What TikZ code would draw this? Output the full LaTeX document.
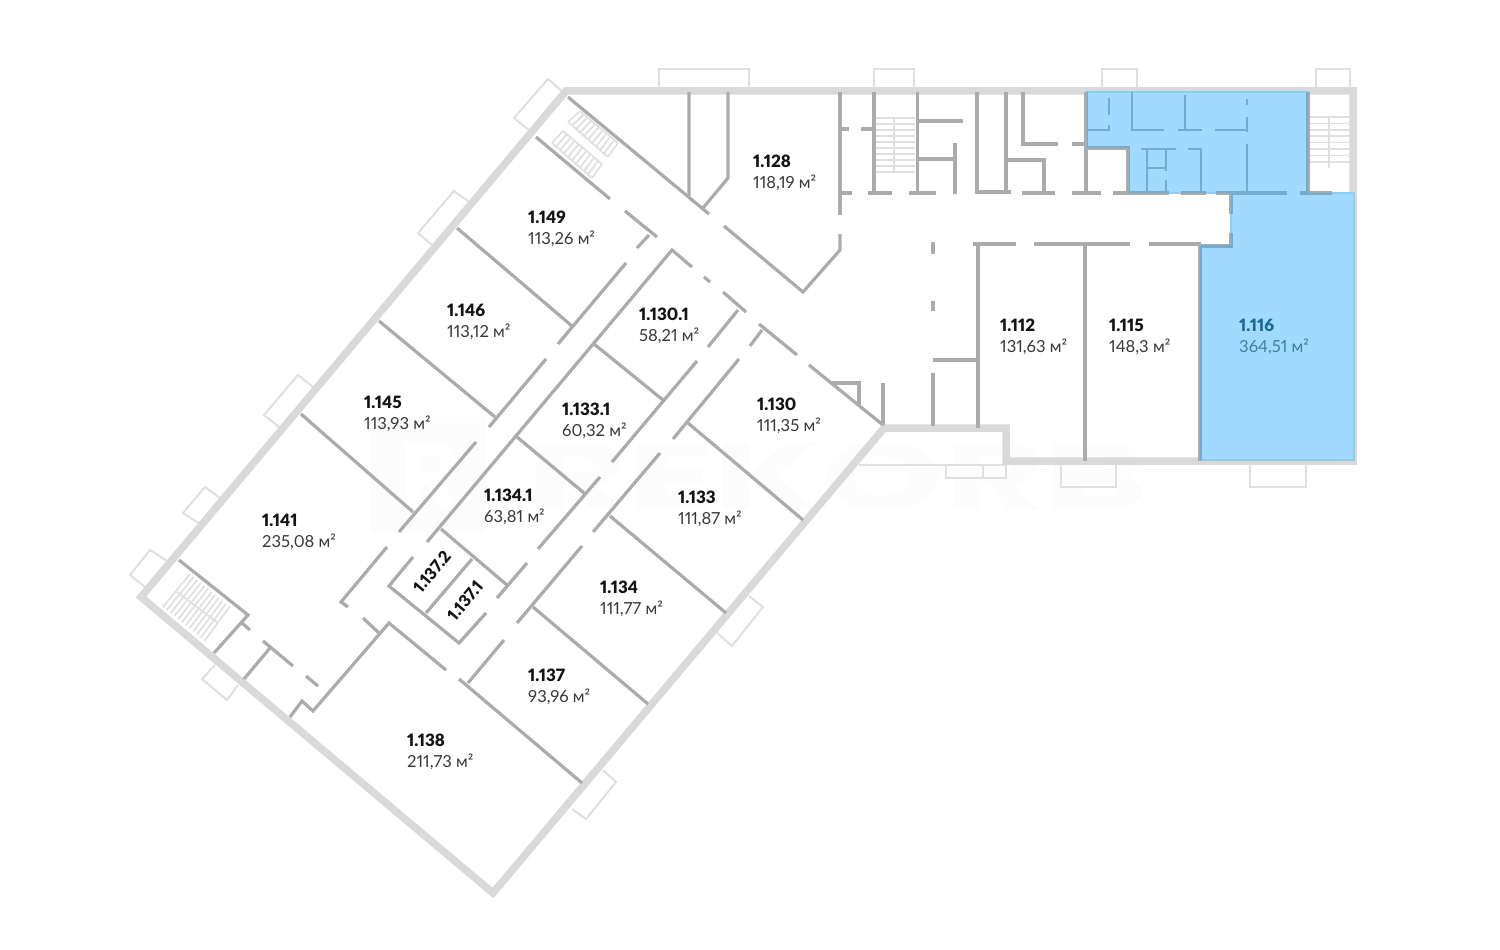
\documentclass[tikz,border=0pt]{standalone}
\usepackage{fontspec}
\setmainfont[Numbers=Proportional]{Lato}
\newfontfamily\heavyf[Numbers=Proportional]{Lato Black}
\newfontfamily\markfont{Poppins}
\usetikzlibrary{calc}
\definecolor{outerc}{HTML}{D9D9D9}
\definecolor{innerc}{HTML}{ABABAB}
\definecolor{innerb}{HTML}{72ACCF}
\definecolor{winc}{HTML}{DFDFDF}
\definecolor{blueroom}{HTML}{A0DAFF}
\definecolor{blueedge}{HTML}{8CCDF2}
\definecolor{marka}{HTML}{FCFCFC}
\definecolor{bluedark}{HTML}{1C6A96}
\definecolor{bluemid}{HTML}{3F7EA3}
\tikzset{
  x=1pt,y=-1pt,
  outerw/.style={draw=outerc,line width=7.5pt,line join=miter},
  wall/.style={draw=innerc,line width=3.2pt,line join=miter},
  wallthin/.style={draw=innerc,line width=2.2pt},
  winbox/.style={draw=winc,line width=2pt},
  rung/.style={draw=winc,line width=1.7pt},
  roomno/.style={anchor=base west,inner sep=0pt,font=\fontsize{17}{20}\selectfont\heavyf,text=black!92},
  roomarea/.style={anchor=base west,inner sep=0pt,font=\fontsize{16.6}{20}\selectfont,text=black!78},
  roomtilt/.style={inner sep=0pt,font=\fontsize{16.5}{20}\selectfont\heavyf,text=black!92,rotate=50},
}
\newcommand{\roomlabel}[5]{%
  \node[roomno] (n#4) at (#2,#3+6) {#1};
  \node[roomarea] (a#4) at (#2,#3+27) {#5};}
% quadrilateral stairs: corners a b c d, rungs between a-b and d-c
\newcommand{\stairs}[5]{%
  \foreach \t in {0,#5,...,1.001}{\draw[rung] ($(#1)!\t!(#2)$) -- ($(#4)!\t!(#3)$);}}
\newcommand{\planwalls}{%
  % upper right block
  \draw[wall] (840,92) -- (840,215);
  \draw[wall] (840,234) -- (840,250) -- (803,292) -- (724,226);
  \draw[wall] (840,129) -- (849,129) (861,129) -- (874,129);
  \draw[wall] (874,92) -- (874,193) (840,193) -- (852,193) (868,193) -- (892,193);
  \draw[wall] (917.5,92) -- (917.5,193) (909,193) -- (936,193);
  \draw[wall] (918,121) -- (963,121) (918,159) -- (955,159) (955,143) -- (955,194);
  \draw[wall] (977,92) -- (977,192) -- (1011,192) (1006,92) -- (1006,192);
  \draw[wall] (1006,160) -- (1044,160) -- (1044,193) (1022,193) -- (1055,193);
  \draw[wall] (1023,92) -- (1023,144) -- (1058,144) (1072,144) -- (1087,144);
  \draw[wall] (1086,92) -- (1086,193) (1072,193) -- (1101,193);
  \draw[wall] (1086,148) -- (1128,148) -- (1128,193);
  \draw[wall] (1113,193) -- (1169,193) (1181,193) -- (1206,193) (1216,193) -- (1287,193) (1300,193) -- (1332,193);
  \draw[wall] (1308,92) -- (1308,193);
  \draw[wallthin] (1109,98) -- (1109,115) (1109,125) -- (1109,131) (1087,130) -- (1109,130);
  \draw[wallthin] (1132,92) -- (1132,130) -- (1164,130);
  \draw[wallthin] (1185,95) -- (1185,130) (1178,130) -- (1202,130);
  \draw[wallthin] (1247,99) -- (1247,105) (1247,117) -- (1247,132) (1215,130) -- (1247,130);
  \draw[wallthin] (1247,144) -- (1247,193);
  \draw[wallthin] (1147,149) -- (1147,193) (1141,149) -- (1176,149) (1147,168) -- (1167,168);
  \draw[wallthin] (1166,149) -- (1166,171) (1166,180) -- (1166,193);
  \draw[wallthin] (1188,149) -- (1202,149) (1201,149) -- (1201,193);
  \draw[wall] (1231,193) -- (1231,214) (1231,233) -- (1231,246) -- (1200,246);
  % offices on the right
  \draw[wall] (973,244) -- (1016,244) (1034,244) -- (1130,244) (1149,244) -- (1201,244);
  \draw[wall] (978,244) -- (978,428) (1085,244) -- (1085,461) (1200,244) -- (1200,461);
  \draw[wall] (933,242) -- (933,254) (933,301) -- (933,311) (933,373) -- (933,426) (933,360) -- (979,360);
  \draw[wall] (832,383) -- (859,383) -- (859,405) (883,383) -- (883,425);
  % diagonal corridor, upper
  \draw[wall] (568,97) -- (709,214);
  \draw[wall] (689,92) -- (689,196) (728,92) -- (728,178) -- (703,208);
  \draw[wall] (759,324) -- (797,355) (809,365) -- (883,425);
  \draw[wall] (762,330) -- (750,346);
  \draw[wall] (739,359) -- (673,439) (660,453) -- (593,532) (582,546) -- (517,623) (504,640) -- (468,683);
  \draw[wall] (459,679) -- (582,783);
  \draw[wall] (688,423) -- (803,520) (610,516) -- (726,613) (533,607) -- (648,704);
  \draw[wall] (738,310) -- (708,347) (723,292) -- (746,312) (704,277) -- (710,282) (692,267) -- (672,250) -- (427,542);
  \draw[wall] (697,361) -- (612,462) (600,477) -- (538,549) (527,563) -- (497,598);
  \draw[wall] (594,344) -- (663,400) (517,437) -- (584,493);
  \draw[wall] (441,529) -- (507,585) (472,559) -- (426,613);
  \draw[wall] (413,557) -- (389,586) -- (459,643) -- (486,613);
  % left corridor
  \draw[wall] (536,137) -- (610,199) (625,211) -- (657,237) (649,235) -- (637,248);
  \draw[wall] (626,263) -- (558,344) (546,359) -- (489,427) (476,442) -- (399,532);
  \draw[wall] (387,547) -- (341,602) -- (348,607) (363,618) -- (379,633);
  \draw[wall] (457,228) -- (572,326) (379,321) -- (495,417) (301,414) -- (413,512);
  \draw[wall] (446,670) -- (389,623) -- (313,711) -- (302,701) -- (290,717);
  \draw[wall] (179,560) -- (248,615) -- (214,653) (242,623) -- (250,630);
  \draw[wall] (263,641) -- (293,666) (270,648) -- (244,679) (306,676) -- (318,686);
}
\begin{document}
\begin{tikzpicture}
\useasboundingbox (0,0) rectangle (1500,950);
\fill[white] (0,0) rectangle (1500,950);
% watermark
\fill[marka] (370,417) rectangle (486,533);
\node[text=white,inner sep=0pt,font=\markfont\bfseries\fontsize{96}{96}\selectfont] (logor) at (432,477) {R};
\node[text=marka,inner sep=0pt,xscale=1.62,font=\markfont\bfseries\fontsize{96}{96}\selectfont] (markt) at (838,477) {REKORB};
% windows
\draw[winbox] (659,91) -- (659,69) -- (749,69) -- (749,91);
\draw[winbox] (874,91) -- (874,69) -- (914,69) -- (914,91);
\draw[winbox] (1102,91) -- (1102,69) -- (1137,69) -- (1137,91);
\draw[winbox] (1316,91) -- (1316,69) -- (1350,69) -- (1350,91);
\draw[winbox] (563,92) -- (548,79) -- (514,118) -- (530,131);
\draw[winbox] (469,202) -- (454,191) -- (418,233) -- (432,245);
\draw[winbox] (313,387) -- (298,375) -- (264,415) -- (279,427);
\draw[winbox] (220,498) -- (205,487) -- (183,513) -- (200,524);
\draw[winbox] (167,561) -- (150,550) -- (130,575) -- (145,587);
\draw[winbox] (238,685) -- (227,700) -- (202,679) -- (215,665);
\draw[winbox] (749,596) -- (763,607) -- (732,646) -- (717,633);
\draw[winbox] (603,770) -- (616,782) -- (586,819) -- (572,809);
\draw[winbox] (859,465) -- (1005,465) (946,465) -- (946,478) -- (1006,478) -- (1006,465) (983,465) -- (983,478);
\draw[winbox] (1061,465) -- (1061,487) -- (1116,487) -- (1116,465);
\draw[winbox] (1250,465) -- (1250,487) -- (1306,487) -- (1306,465);
% stairs
\stairs{580,111}{618,143}{608,157}{568,122}{0.1}
\draw[rung] (580,111) -- (618,143) (568,122) -- (608,157);
\stairs{563,131}{602,164}{592,178}{552,143}{0.1}
\draw[rung] (563,131) -- (602,164) (552,143) -- (592,178);
\stairs{190,574}{230,607}{205,641}{163,607}{0.09}
\draw[rung] (177,592) -- (218,623);
\foreach \yy in {118,124,...,172}{\draw[rung] (876,\yy) -- (915,\yy);}
\draw[rung] (894,118) -- (894,172);
\foreach \yy in {117,123.4,...,168}{\draw[rung] (1310,\yy) -- (1350,\yy);}
\draw[rung] (1329,117) -- (1329,168);
% outer walls
\draw[outerw] (566,91) -- (1353,91) -- (1353,461) -- (1006,461) -- (1006,428) -- (884,428) -- (493,893) -- (141,597) -- cycle;
% rented unit
\fill[blueroom,draw=blueedge,line width=2pt] (1087,92) -- (1308,92) -- (1308,193) -- (1354,193) -- (1354,460) -- (1200,460) -- (1200,245) -- (1231,245) -- (1231,193) -- (1129,193) -- (1129,148) -- (1087,148) -- cycle;
% inner walls
\planwalls
\begin{scope}[wall/.style={draw=innerb,line width=3.2pt},wallthin/.style={draw=innerb,line width=2.2pt}]
\clip (1087,92) -- (1308,92) -- (1308,193) -- (1354,193) -- (1354,460) -- (1200,460) -- (1200,245) -- (1231,245) -- (1231,193) -- (1129,193) -- (1129,148) -- (1087,148) -- cycle;
\planwalls
\end{scope}
% labels
\roomlabel{1.128}{753}{161}{r1128}{118,19 м²}
\roomlabel{1.149}{528}{217}{r1149}{113,26 м²}
\roomlabel{1.146}{447}{310}{r1146}{113,12 м²}
\roomlabel{1.145}{364}{402}{r1145}{113,93 м²}
\roomlabel{1.141}{262}{520}{r1141}{235,08 м²}
\roomlabel{1.130.1}{639}{314}{r11301}{58,21 м²}
\roomlabel{1.133.1}{562}{409}{r11331}{60,32 м²}
\roomlabel{1.134.1}{484}{495}{r11341}{63,81 м²}
\roomlabel{1.130}{757}{404}{r1130}{111,35 м²}
\roomlabel{1.133}{678}{497}{r1133}{111,87 м²}
\roomlabel{1.134}{600}{587}{r1134}{111,77 м²}
\roomlabel{1.137}{528}{675}{r1137}{93,96 м²}
\roomlabel{1.138}{407}{740}{r1138}{211,73 м²}
\roomlabel{1.112}{1000}{325}{r1112}{131,63 м²}
\roomlabel{1.115}{1109}{325}{r1115}{148,3 м²}
\node[roomno,text=bluedark] (n1116) at (1239,331) {1.116};
\node[roomarea,text=bluemid] (a1116) at (1239,352) {364,51 м²};
\node[roomtilt] (n11372) at (432,572) {1.137.2};
\node[roomtilt] (n11371) at (465,601) {1.137.1};
\end{tikzpicture}
\end{document}
